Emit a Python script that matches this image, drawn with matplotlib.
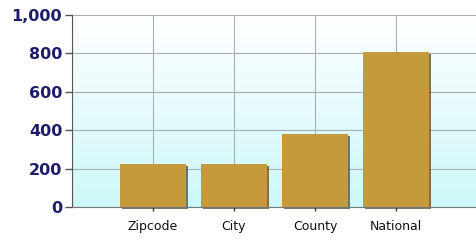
import numpy as np
import matplotlib.pyplot as plt
import matplotlib.patches as mpatches

categories = ["Zipcode", "City", "County", "National"]
values = [225, 225, 380, 805]
yticks = [0, 200, 400, 600, 800, 1000]
ytick_labels = ["0", "200", "400", "600", "800", "1,000"]

fig = plt.figure(figsize=(4.77, 2.43), dpi=100)
ax = fig.add_axes([72 / 477, 36 / 243, 405 / 477, 192 / 243])

# background gradient: white at top to light cyan at bottom
grad = np.linspace(0, 1, 256).reshape(-1, 1)
top = np.array([1.0, 1.0, 1.0])
bottom = np.array([0.80, 0.97, 0.98])
img = top + (bottom - top) * grad[:, :, None]
ax.imshow(img, extent=[-1, 4, 0, 1000], aspect="auto", zorder=0, origin="upper")

x = np.arange(len(categories))
ax.set_xlim(-1, 4)
ax.set_ylim(0, 1000)

for xv in range(-1, 5):
    ax.axvline(xv, color="#a8b0b0", lw=0.8, zorder=1)
for yv in yticks:
    ax.axhline(yv, color="#a8b0b0", lw=0.8, zorder=1)

w = 0.81
# drop shadows, offset a couple of pixels right and down
dx = 2 * 5 / 405
dy = 2 * 1000 / 192
for xi, v in zip(x, values):
    ax.add_patch(mpatches.Rectangle((xi - w / 2 + dx, -dy), w, v,
                 facecolor="#4a3c22", edgecolor="none", alpha=0.7,
                 zorder=2, clip_on=False))
ax.bar(x, values, width=w, color="#c49a3c", edgecolor="none", zorder=3)

ax.set_xticks(x)
ax.set_xticklabels(categories, fontsize=9, color="#111111")
ax.set_yticks(yticks)
ax.set_yticklabels(ytick_labels, fontsize=11.5, fontweight="bold", color="#1c1c6a")
ax.tick_params(axis="y", length=5, width=1, color="#555555", pad=2)
ax.tick_params(axis="x", length=3, width=1, color="#333333", pad=6)

for s in ["top", "right"]:
    ax.spines[s].set_visible(False)
ax.spines["left"].set_color("#555555")
ax.spines["bottom"].set_color("#777777")
ax.spines["bottom"].set_zorder(4)

fig.savefig("out.png", dpi=100)
